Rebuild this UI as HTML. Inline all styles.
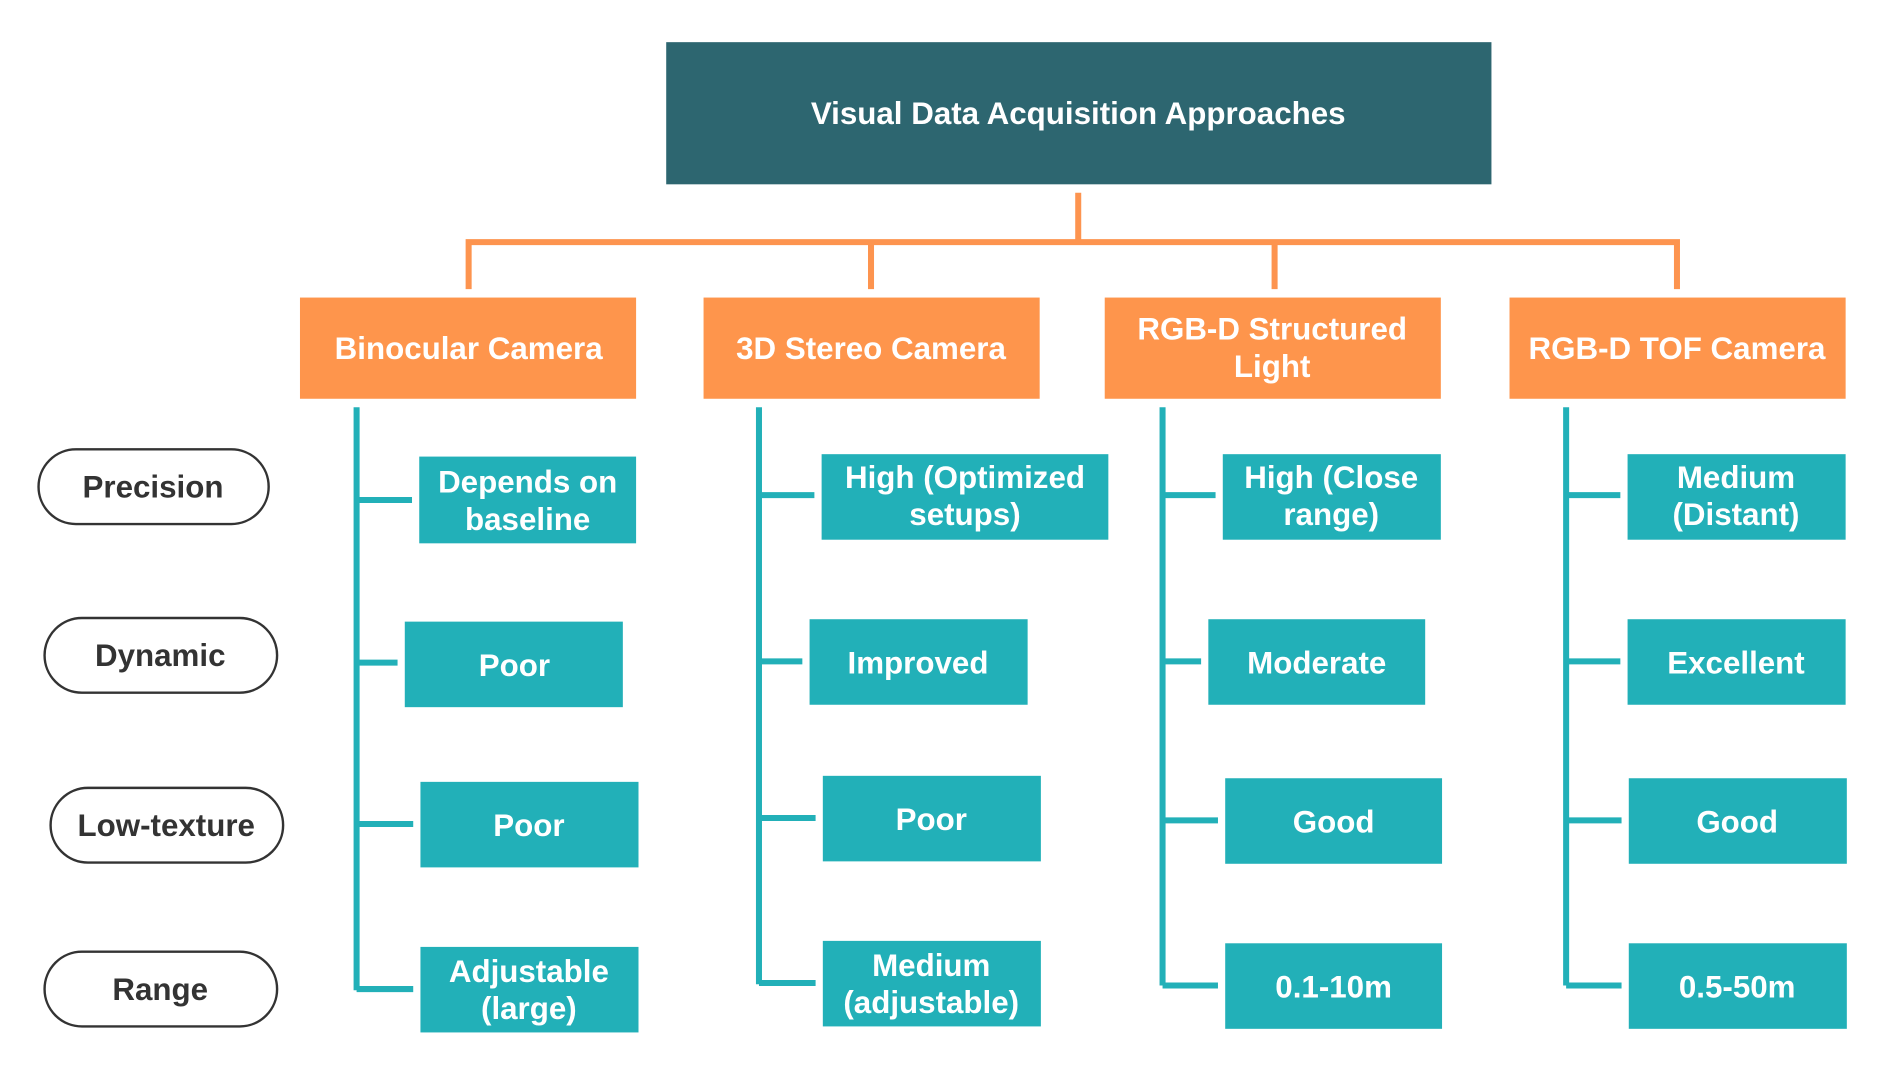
<!DOCTYPE html>
<html><head><meta charset="utf-8"><style>html,body{margin:0;padding:0;background:#fff}svg{display:block}text{font-family:"Liberation Sans",sans-serif;font-weight:bold}</style></head><body>
<svg width="1889" height="1074" viewBox="0 0 1568 891.5" preserveAspectRatio="none" xmlns="http://www.w3.org/2000/svg">
<rect x="553" y="35" width="685" height="118" fill="#2d6670"/>
<text x="895" y="103" fill="#fff" font-size="26" text-anchor="middle">Visual Data Acquisition Approaches</text>
<g stroke="#fd944f" stroke-width="5" fill="none">
<path d="M895 160V201M389 240V201H1392V240M723 201V240M1058 201V240"/>
</g>
<g fill="#fe954c">
<rect x="249" y="247" width="279" height="84"/><rect x="584" y="247" width="279" height="84"/>
<rect x="917" y="247" width="279" height="84"/><rect x="1253" y="247" width="279" height="84"/>
</g>
<g fill="#fff" font-size="26" text-anchor="middle">
<text x="389" y="298">Binocular Camera</text>
<text x="723" y="298">3D Stereo Camera</text>
<text x="1056" y="282">RGB-D Structured</text><text x="1056" y="313">Light</text>
<text x="1392" y="298">RGB-D TOF Camera</text>
</g>
<g stroke="#22b0b8" stroke-width="5" fill="none">
<path d="M296 338V822M296 415H342M296 550H330M296 684H343M296 821H343"/>
<path d="M630 338V817M630 411H676M630 549H666M630 679H677M630 816H677"/>
<path d="M965 338V818M965 411H1009M965 549H997M965 681H1011M965 818H1011"/>
<path d="M1300 338V818M1300 411H1345M1300 549H1345M1300 681H1346M1300 818H1346"/>
</g>
<g fill="#22b0b8">
<rect x="348" y="379" width="180" height="72"/><rect x="336" y="516" width="181" height="71"/><rect x="349" y="649" width="181" height="71"/><rect x="349" y="786" width="181" height="71"/>
<rect x="682" y="377" width="238" height="71"/><rect x="672" y="514" width="181" height="71"/><rect x="683" y="644" width="181" height="71"/><rect x="683" y="781" width="181" height="71"/>
<rect x="1015" y="377" width="181" height="71"/><rect x="1003" y="514" width="180" height="71"/><rect x="1017" y="646" width="180" height="71"/><rect x="1017" y="783" width="180" height="71"/>
<rect x="1351" y="377" width="181" height="71"/><rect x="1351" y="514" width="181" height="71"/><rect x="1352" y="646" width="181" height="71"/><rect x="1352" y="783" width="181" height="71"/>
</g>
<g fill="#fff" font-size="26" text-anchor="middle">
<text x="438" y="409">Depends on</text><text x="438" y="440">baseline</text>
<text x="427" y="561">Poor</text><text x="439" y="694">Poor</text>
<text x="439" y="815">Adjustable</text><text x="439" y="846">(large)</text>
<text x="801" y="405">High (Optimized</text><text x="801" y="436">setups)</text>
<text x="762" y="559">Improved</text><text x="773" y="689">Poor</text>
<text x="773" y="810">Medium</text><text x="773" y="841">(adjustable)</text>
<text x="1105" y="405">High (Close</text><text x="1105" y="436">range)</text>
<text x="1093" y="559">Moderate</text><text x="1107" y="691">Good</text><text x="1107" y="828">0.1-10m</text>
<text x="1441" y="405">Medium</text><text x="1441" y="436">(Distant)</text>
<text x="1441" y="559">Excellent</text><text x="1442" y="691">Good</text><text x="1442" y="828">0.5-50m</text>
</g>
<g fill="#fff" stroke="#333" stroke-width="2">
<rect x="32" y="373" width="191" height="62" rx="31"/><rect x="37" y="513" width="193" height="62" rx="31"/>
<rect x="42" y="654" width="193" height="62" rx="31"/><rect x="37" y="790" width="193" height="62" rx="31"/>
</g>
<g fill="#333" font-size="26" text-anchor="middle">
<text x="127" y="413">Precision</text><text x="133" y="553">Dynamic</text>
<text x="138" y="694">Low-texture</text><text x="133" y="830">Range</text>
</g>
</svg>
</body></html>
